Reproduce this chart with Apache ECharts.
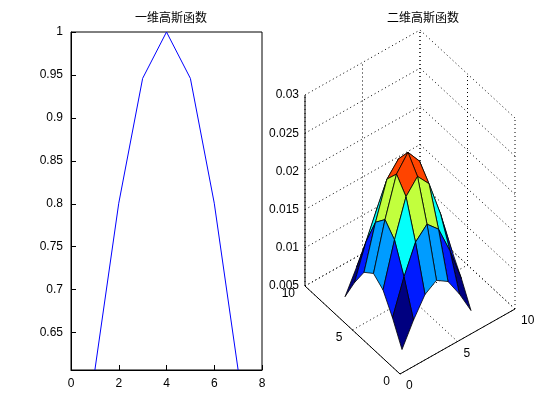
<!DOCTYPE html>
<html><head><meta charset="utf-8">
<script src="https://cdn.jsdelivr.net/npm/echarts@6/dist/echarts.min.js"></script>
<style>html,body{margin:0;background:#fff}#main{width:560px;height:420px}</style>
</head><body><div id="main"></div>
<script>
// 一维高斯函数
var xs1 = [1, 2, 3, 4, 5, 6, 7];
var ys1 = [0.6065, 0.8007, 0.9460, 1.0, 0.9460, 0.8007, 0.6065];
var yTicks1 = [0.65, 0.7, 0.75, 0.8, 0.85, 0.9, 0.95, 1];

// 二维高斯函数 (7x7 网格)
var gx = [1, 2, 3, 4, 5, 6, 7];
var gy = [1, 2, 3, 4, 5, 6, 7];
var gz = [
  [0.0062, 0.0092, 0.0117, 0.0127, 0.0117, 0.0092, 0.0062],
  [0.0092, 0.0137, 0.0174, 0.0189, 0.0174, 0.0137, 0.0092],
  [0.0117, 0.0174, 0.0222, 0.0240, 0.0222, 0.0174, 0.0117],
  [0.0127, 0.0189, 0.0240, 0.0260, 0.0240, 0.0189, 0.0127],
  [0.0117, 0.0174, 0.0222, 0.0240, 0.0222, 0.0174, 0.0117],
  [0.0092, 0.0137, 0.0174, 0.0189, 0.0174, 0.0137, 0.0092],
  [0.0062, 0.0092, 0.0117, 0.0127, 0.0117, 0.0092, 0.0062]
];
var zTicks = [0.005, 0.01, 0.015, 0.02, 0.025, 0.03];
var xyTicks = [0, 5, 10];

// 简单斜投影
var O = [400, 374], EX = [11.5, -6.5], EY = [-9.5, -8.8], ZS = 7640, Z0 = 0.005;
function proj(x, y, z) {
  return [O[0] + x * EX[0] + y * EY[0], O[1] + x * EX[1] + y * EY[1] - (z - Z0) * ZS];
}
var zmin = Math.min.apply(null, gz.map(r => Math.min.apply(null, r)));
var zmax = Math.max.apply(null, gz.map(r => Math.max.apply(null, r)));
function jet(t) {
  function c(v) { return Math.round(255 * Math.max(0, Math.min(1, v))); }
  return 'rgb(' + c(1.5 - Math.abs(4 * t - 3)) + ',' + c(1.5 - Math.abs(4 * t - 2)) + ',' + c(1.5 - Math.abs(4 * t - 1)) + ')';
}

// 面片，从远到近排序
var quads = [];
for (var i = 0; i < gx.length - 1; i++)
  for (var j = 0; j < gy.length - 1; j++) quads.push([i, j]);
quads.sort((a, b) => (b[0] + b[1]) - (a[0] + a[1]));

// 坐标框线
var lines = [];
var Zt = 0.03;
xyTicks.forEach(function (t) {
  lines.push([t, 10, Z0, t, 10, Zt, 1]);
  lines.push([10, t, Z0, 10, t, Zt, 1]);
  lines.push([t, 0, Z0, t, 10, Z0, 1]);
  lines.push([0, t, Z0, 10, t, Z0, 1]);
});
zTicks.forEach(function (z) {
  lines.push([0, 10, z, 10, 10, z, 1]);
  lines.push([10, 0, z, 10, 10, z, 1]);
});
lines.push([0, 10, Z0, 0, 10, Zt, 0]);
lines.push([0, 0, Z0, 10, 0, Z0, 0]);
lines.push([0, 0, Z0, 0, 10, Z0, 0]);

var labels = [];
zTicks.forEach(function (z) { labels.push([0, 10, z, String(z), -6, 0, 'right']); });
xyTicks.forEach(function (t) {
  labels.push([t, 0, Z0, String(t), 6, 12, 'left']);
  labels.push([0, t, Z0, String(t), -10, 8, 'right']);
});

var font = 'Liberation Sans, Arial, sans-serif';
var chart = echarts.init(document.getElementById('main'));
chart.setOption({
  animation: false,
  title: [
    { text: '一维高斯函数', left: 166, top: 6, textAlign: 'center', textStyle: { fontFamily: 'Noto Sans CJK SC', fontSize: 12, fontWeight: 'normal', color: '#000' } },
    { text: '二维高斯函数', left: 418, top: 6, textAlign: 'center', textStyle: { fontFamily: 'Noto Sans CJK SC', fontSize: 12, fontWeight: 'normal', color: '#000' } }
  ],
  grid: [
    { left: 71, top: 32, width: 191, height: 338, show: true, borderColor: '#000', borderWidth: 1 },
    { left: 0, top: 0, right: 0, bottom: 0 }
  ],
  xAxis: [
    { gridIndex: 0, type: 'value', min: 0, max: 8, interval: 2, splitLine: { show: false },
      axisLine: { lineStyle: { color: '#000' } }, axisTick: { inside: true, lineStyle: { color: '#000' } },
      axisLabel: { color: '#000', fontFamily: font, fontSize: 12 } },
    { gridIndex: 1, type: 'value', min: 0, max: 560, show: false }
  ],
  yAxis: [
    { gridIndex: 0, type: 'value', min: 0.6065, max: 1, splitLine: { show: false },
      axisLine: { show: true, lineStyle: { color: '#000' } },
      axisTick: { inside: true, customValues: yTicks1, lineStyle: { color: '#000' } },
      axisLabel: { customValues: yTicks1, color: '#000', fontFamily: font, fontSize: 12, formatter: v => String(+v.toFixed(2)) } },
    { gridIndex: 1, type: 'value', min: 0, max: 420, inverse: true, show: false }
  ],
  series: [
    { type: 'line', xAxisIndex: 0, yAxisIndex: 0, data: xs1.map((x, k) => [x, ys1[k]]),
      symbol: 'none', lineStyle: { color: '#0000ff', width: 1 } },
    { type: 'custom', xAxisIndex: 1, yAxisIndex: 1, data: lines, silent: true,
      renderItem: function (p, api) {
        var d = lines[p.dataIndex];
        var a = api.coord(proj(d[0], d[1], d[2])), b = api.coord(proj(d[3], d[4], d[5]));
        return { type: 'line', shape: { x1: a[0], y1: a[1], x2: b[0], y2: b[1] },
          style: { stroke: '#000', lineWidth: 1, lineDash: d[6] ? [1, 3] : null } };
      } },
    { type: 'custom', xAxisIndex: 1, yAxisIndex: 1, data: labels, silent: true,
      renderItem: function (p, api) {
        var d = labels[p.dataIndex];
        var a = api.coord(proj(d[0], d[1], d[2]));
        return { type: 'text', x: a[0] + d[4], y: a[1] + d[5],
          style: { text: d[3], fill: '#000', font: '12px ' + font, align: d[6], verticalAlign: 'middle' } };
      } },
    { type: 'custom', xAxisIndex: 1, yAxisIndex: 1, data: quads, silent: true, z: 5,
      renderItem: function (p, api) {
        var q = quads[p.dataIndex], i = q[0], j = q[1];
        var c = [[i, j], [i + 1, j], [i + 1, j + 1], [i, j + 1]];
        var pts = c.map(function (k) { return api.coord(proj(gx[k[0]], gy[k[1]], gz[k[1]][k[0]])); });
        var lo = Math.min.apply(null, c.map(function (k) { return gz[k[1]][k[0]]; }));
        return { type: 'polygon', shape: { points: pts },
          style: { fill: jet((lo - zmin) / (zmax - zmin)), stroke: '#000', lineWidth: 0.8 } };
      } }
  ]
});
</script></body></html>
